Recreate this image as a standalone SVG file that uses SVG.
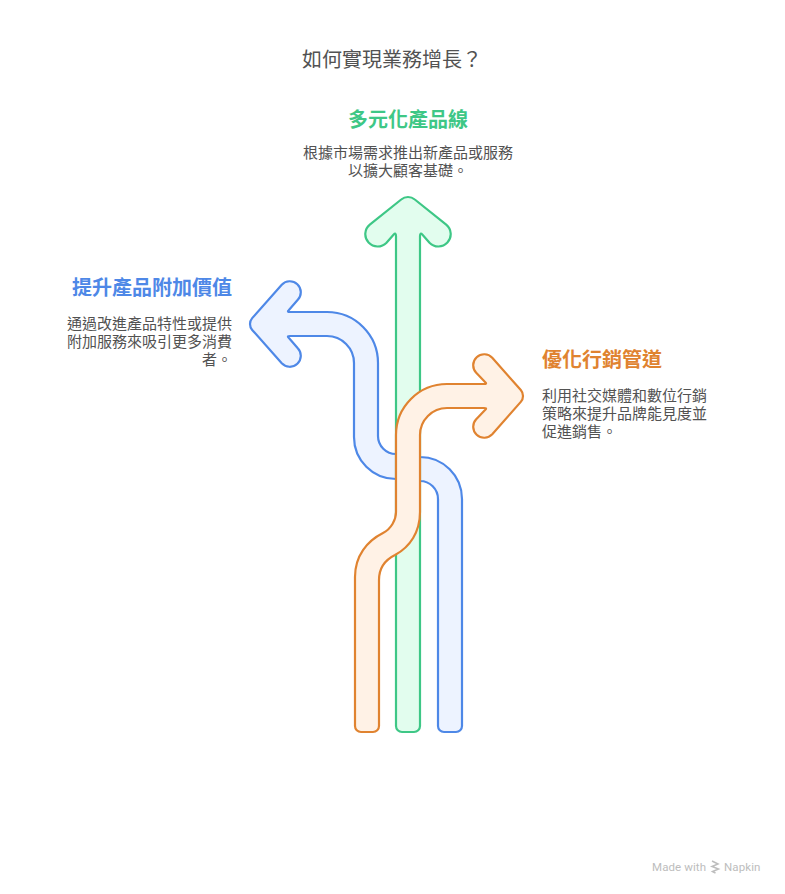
<svg xmlns="http://www.w3.org/2000/svg" width="785" height="894" viewBox="0 0 785 894">
<style>
text{font-family:"Noto Sans CJK TC","Noto Sans",sans-serif}
.title{font-size:20px;fill:#525252}
.h{font-size:20px;font-weight:700}
.b{font-size:15px;fill:#525252}
.arrow{stroke-width:2.200;stroke-linejoin:round}
.wm{font-family:Roboto,sans-serif;font-size:11.500px;fill:#bdbdbd;letter-spacing:.1px}
</style>
<rect width="785" height="894" fill="#fff"/>
<text class="title" x="392" y="67" text-anchor="middle">如何實現業務增長？</text>
<g id="connectors">
<path id="arrow-blue" class="arrow" fill="#EDF3FF" stroke="#4E88E7" d="M438 726V499A18 18 0 0 0 420 481L396 479A42 42 0 0 1 354 437V363A27 27 0 0 0 327 336H290Q287 336 288.500 337.500L297.800 348.200A11 11 0 1 1 281.750 363.300L252.200 329.900A9 9 0 0 1 252.200 318.100L281.750 284.700A11 11 0 1 1 297.800 299.800L288.500 310.500Q287 312 290 312H327A51 51 0 0 1 378 363V436A18 18 0 0 0 396 454L420 457A42 42 0 0 1 462 499V726a6 6 0 0 1-6 6H444a6 6 0 0 1-6-6Z"/>
<path id="arrow-green" class="arrow" fill="#E2FDEE" stroke="#3EC786" d="M396 726V236Q396 232 393.500 234.700L386.500 242.700A12.300 12.300 0 1 1 369.800 224.700L401.200 199.500A10.500 10.500 0 0 1 414.800 199.500L446.200 224.700A12.300 12.300 0 1 1 429.500 242.700L422.500 234.700Q420 232 420 236V726a6 6 0 0 1-6 6H402a6 6 0 0 1-6-6Z"/>
<path id="arrow-orange" class="arrow" fill="#FFF2E6" stroke="#E08330" d="M355 726V577C355 556 367 541 383 533C391 529 396 520 396 512V435A51 51 0 0 1 447 384H484Q487 384 485.500 382.500L476.200 372.800A11 11 0 1 1 492.250 357.700L520.800 390.100A9 9 0 0 1 520.800 401.900L492.250 434.300A11 11 0 1 1 476.200 419.200L485.500 409.500Q487 408 484 408H447A27 27 0 0 0 420 435V512C420 532 410 547 395 555C385 560 379 568 379 580V726a6 6 0 0 1-6 6H361a6 6 0 0 1-6-6Z"/>
</g>
<g id="node-green">
<text class="h" x="408" y="127" text-anchor="middle" fill="#3EC786">多元化產品線</text>
<text class="b" x="408" y="158" text-anchor="middle">根據市場需求推出新產品或服務</text>
<text class="b" x="408" y="176" text-anchor="middle">以擴大顧客基礎。</text>
</g>
<g id="node-blue">
<text class="h" x="232" y="295" text-anchor="end" fill="#4E88E7">提升產品附加價值</text>
<text class="b" x="232" y="329" text-anchor="end">通過改進產品特性或提供</text>
<text class="b" x="232" y="347" text-anchor="end">附加服務來吸引更多消費</text>
<text class="b" x="232" y="365" text-anchor="end">者。</text>
</g>
<g id="node-orange">
<text class="h" x="542" y="367" fill="#E08330">優化行銷管道</text>
<text class="b" x="542" y="401">利用社交媒體和數位行銷</text>
<text class="b" x="542" y="419">策略來提升品牌能見度並</text>
<text class="b" x="542" y="437">促進銷售。</text>
</g>
<g id="watermark">
<text class="wm" x="652" y="871">Made with</text>
<path d="M712 861l6 3-6 2.500 6.500 2.500-6 2.500 3 1.500" fill="none" stroke="#bdbdbd" stroke-width="1.500"/>
<text class="wm" x="724" y="871">Napkin</text>
</g>
</svg>
